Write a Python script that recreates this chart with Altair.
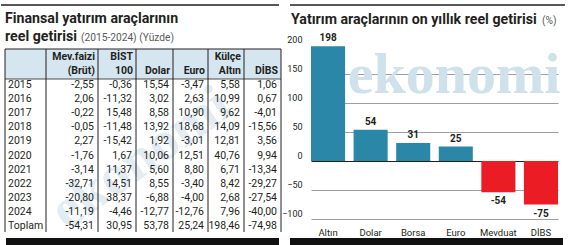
import altair as alt
import pandas as pd

# ---------------- data ----------------
years = ["2015", "2016", "2017", "2018", "2019", "2020", "2021", "2022", "2023", "2024", "Toplam"]
mevduat = [-2.55, 2.06, -0.22, -0.05, 2.27, -1.76, -3.14, -32.71, -20.80, -11.19, -54.31]
bist = [-0.36, -11.32, 15.48, -11.48, -15.42, 1.67, 11.37, 14.51, 38.37, -4.46, 30.95]
dolar = [15.54, 3.02, 8.58, 13.92, 1.92, 10.06, 5.60, 8.55, -6.88, -12.77, 53.78]
euro = [-3.47, 2.63, 10.90, 18.68, -3.01, 12.51, 8.80, -3.40, -4.00, -12.76, 25.24]
altin = [5.58, 10.99, 9.62, 14.09, 12.81, 40.76, 6.71, 8.42, 2.68, 7.96, 198.46]
dibs = [1.06, 0.67, -4.01, -15.56, 3.56, 9.94, -13.34, -29.27, -27.54, -40.00, -74.98]

header_top = ["Mev.faizi", "BİST", "", "", "Külçe", ""]
header_bottom = ["(Brüt)", "100", "Dolar", "Euro", "Altın", "DİBS"]

bar_cats = ["Altın", "Dolar", "Borsa", "Euro", "Mevduat", "DİBS"]
bar_vals = [198, 54, 31, 25, -54, -75]
y_ticks = [-100, -50, 0, 50, 100, 150, 200]

# ---------------- style ----------------
FONT = "Roboto"
INK = "#231f20"
GREY = "#58595b"
SHADE = "#d6e6f0"
TEAL = "#2b87a7"
RED = "#ec1c24"
WATER = "#cfe1ea"
COL_EDGES = [4, 45, 97, 135, 172, 207, 243, 280]


def fmt(v):
    return f"{v:.2f}".replace(".", ",")


series = [mevduat, bist, dolar, euro, altin, dibs]
cell_rows = []
for i in range(len(years)):
    for k, s in enumerate(series):
        cell_rows.append({"row": i, "edge": k + 2, "txt": fmt(s[i])})
cells_df = pd.DataFrame(cell_rows)
years_df = pd.DataFrame({"row": list(range(len(years))), "edge": [0] * len(years), "txt": years})
head_df = pd.DataFrame({"edge": list(range(2, 8)), "top": header_top, "bot": header_bottom})
vlines_df = pd.DataFrame({"edge": list(range(8))})
one = pd.DataFrame({"a": [0]})

xs = alt.X("edge:Q", scale=alt.Scale(domain=list(range(8)), range=COL_EDGES, nice=False, zero=False), axis=None)
ys = alt.Y("row:Q", scale=alt.Scale(domain=[0, 10], range=[85, 226], nice=False, zero=False), axis=None)

shade = alt.Chart(one).mark_rect(color=SHADE).encode(
    x=alt.value(4), x2=alt.value(280), y=alt.value(49), y2=alt.value(79))
hline_top = alt.Chart(one).mark_rule(color=INK, strokeWidth=1).encode(
    x=alt.value(4), x2=alt.value(280), y=alt.value(49))
hline_head = alt.Chart(one).mark_rule(color=INK, strokeWidth=0.8).encode(
    x=alt.value(4), x2=alt.value(280), y=alt.value(79))
vlines = alt.Chart(vlines_df).mark_rule(color=INK, strokeWidth=1).encode(
    x=xs, y=alt.value(49), y2=alt.value(232))
wm_left = alt.Chart(pd.DataFrame({"t": ["ekonomi"]})).mark_text(
    font="Liberation Serif", fontWeight="bold", fontSize=56, color=WATER, opacity=0.6,
    angle=325, align="center", baseline="middle").encode(
    x=alt.value(140), y=alt.value(158), text="t:N")
h_top = alt.Chart(head_df).mark_text(font=FONT, fontWeight="bold", fontSize=10.5, color=INK,
                                     align="right", baseline="middle", dx=-3).encode(
    x=xs, y=alt.value(57), text="top:N")
h_bot = alt.Chart(head_df).mark_text(font=FONT, fontWeight="bold", fontSize=10.5, color=INK,
                                     align="right", baseline="middle", dx=-3).encode(
    x=xs, y=alt.value(71), text="bot:N")
yr_txt = alt.Chart(years_df).mark_text(font=FONT, fontSize=10.5, color=INK,
                                       align="left", baseline="middle", dx=3).encode(
    x=xs, y=ys, text="txt:N")
cell_txt = alt.Chart(cells_df).mark_text(font=FONT, fontSize=10.5, color=INK,
                                         align="right", baseline="middle", dx=-4).encode(
    x=xs, y=ys, text="txt:N")
lt1 = alt.Chart(pd.DataFrame({"t": ["Finansal yatırım araçlarının"]})).mark_text(
    font=FONT, fontWeight="bold", fontSize=14.2, color=INK, align="left", baseline="alphabetic").encode(
    x=alt.value(4), y=alt.value(23), text="t:N")
lt2 = alt.Chart(pd.DataFrame({"t": ["reel getirisi"]})).mark_text(
    font=FONT, fontWeight="bold", fontSize=14.2, color=INK, align="left", baseline="alphabetic").encode(
    x=alt.value(4), y=alt.value(41), text="t:N")
lt3 = alt.Chart(pd.DataFrame({"t": ["(2015-2024) (Yüzde)"]})).mark_text(
    font=FONT, fontSize=10.2, color=GREY, align="left", baseline="alphabetic").encode(
    x=alt.value(80), y=alt.value(41), text="t:N")
ltop = alt.Chart(one).mark_rule(color=INK, strokeWidth=1.5).encode(
    x=alt.value(0), x2=alt.value(278), y=alt.value(5))
lbar = alt.Chart(one).mark_rect(color="#111111").encode(
    x=alt.value(5), x2=alt.value(278), y=alt.value(238), y2=alt.value(245))

left = alt.layer(shade, hline_top, hline_head, wm_left, vlines, h_top, h_bot, yr_txt, cell_txt,
                 lt1, lt2, lt3, ltop, lbar).properties(width=280, height=245)

# ---------------- right bar chart ----------------
bars_df = pd.DataFrame({"cat": bar_cats, "val": bar_vals, "lbl": [str(v) for v in bar_vals]})

bx = alt.X("cat:N", sort=bar_cats,
           scale=alt.Scale(range=[21, 268], paddingInner=0.2, paddingOuter=0),
           axis=alt.Axis(title=None, labelAngle=0, domain=False, ticks=False, labelPadding=8,
                         labelFont=FONT, labelFontSize=9.5, labelColor=INK))
by = alt.Y("val:Q",
           scale=alt.Scale(domain=[-100, 200], range=[219, 45], nice=False),
           axis=alt.Axis(title=None, values=y_ticks, grid=True, domain=False, ticks=False,
                         gridColor={"condition": {"test": "datum.value === 0", "value": INK},
                                    "value": "#9d9fa2"},
                         gridOpacity={"condition": {"test": "datum.value === 200", "value": 0},
                                      "value": 1},
                         gridWidth=1,
                         labelAlign="right", labelPadding=-12, labelBaseline="alphabetic",
                         labelOffset=-3, labelFont=FONT, labelFontSize=9, labelColor=INK))

wm_right = alt.Chart(pd.DataFrame({"t": ["ekonomi"]})).mark_text(
    font="Liberation Serif", fontWeight="bold", fontSize=58, color=WATER,
    align="center", baseline="alphabetic").encode(
    x=alt.value(164), y=alt.value(93), text="t:N")
bars = alt.Chart(bars_df).mark_bar().encode(
    x=bx, y=by, y2=alt.datum(0),
    color=alt.condition("datum.val > 0", alt.value(TEAL), alt.value(RED)))
pos_lbl = alt.Chart(bars_df).transform_filter("datum.val > 0").mark_text(
    font=FONT, fontWeight="bold", fontSize=10, color=INK, baseline="bottom", dy=-3).encode(
    x=bx, y=by, text="lbl:N")
neg_lbl = alt.Chart(bars_df).transform_filter("datum.val < 0").mark_text(
    font=FONT, fontWeight="bold", fontSize=10, color=INK, baseline="top", dy=4).encode(
    x=bx, y=by, text="lbl:N")
rt1 = alt.Chart(pd.DataFrame({"t": ["Yatırım araçlarının on yıllık reel getirisi"]})).mark_text(
    font=FONT, fontWeight="bold", fontSize=14.2, color=INK, align="left", baseline="alphabetic").encode(
    x=alt.value(1), y=alt.value(24), text="t:N")
rt2 = alt.Chart(pd.DataFrame({"t": ["(%)"]})).mark_text(
    font=FONT, fontSize=10.2, color=GREY, align="left", baseline="alphabetic").encode(
    x=alt.value(252), y=alt.value(24), text="t:N")
rtop = alt.Chart(one).mark_rule(color=INK, strokeWidth=1.5).encode(
    x=alt.value(0), x2=alt.value(275), y=alt.value(5))
rbar = alt.Chart(one).mark_rect(color="#111111").encode(
    x=alt.value(0), x2=alt.value(273), y=alt.value(238), y2=alt.value(245))

right = alt.layer(wm_right, bars, pos_lbl, neg_lbl, rt1, rt2, rtop, rbar).properties(width=275, height=219)

chart = alt.hconcat(left, right, spacing=9, bounds="flush").properties(
    padding=0, background="white"
).configure_view(strokeWidth=0)

chart.save("out.html", embed_options={"renderer": "svg", "actions": False})
